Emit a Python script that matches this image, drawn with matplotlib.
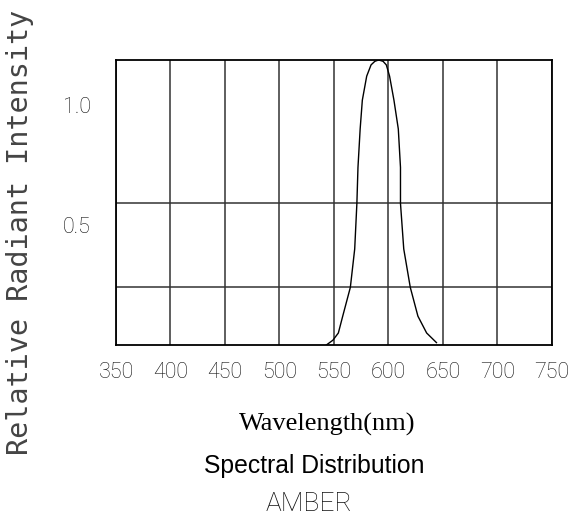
import matplotlib
matplotlib.use('Agg')
import matplotlib.pyplot as plt

# donnees ===============================================================
longueur_onde = [543, 549, 554, 558, 565, 569, 571, 572, 574, 576, 580, 584, 587.5,
                 591, 595, 598, 601, 605, 609, 611, 611, 614, 620, 627, 635, 644]
intensite = [0.0, 0.02, 0.05, 0.12, 0.24, 0.40, 0.59, 0.74, 0.90, 1.02, 1.12, 1.167, 1.182,
             1.1875, 1.182, 1.167, 1.12, 1.02, 0.90, 0.74, 0.59, 0.40, 0.24, 0.12, 0.05, 0.01]

x_ticks = [350, 400, 450, 500, 550, 600, 650, 700, 750]
y_ticks = [0.5, 1.0]
y_tick_labels = ['0.5', '1.0']
y_grille = [0.24, 0.59]

fig = plt.figure(figsize=(5.8, 5.17), dpi=100)
ax = fig.add_axes([0.2, 0.3327, 0.7517, 0.5513])

ax.plot(longueur_onde, intensite, color='black', linewidth=1.0)

for x in x_ticks:
    ax.axvline(x, color='#333333', linewidth=1.1, zorder=0)
for y in y_grille:
    ax.axhline(y, color='#333333', linewidth=1.1, zorder=0)

ax.set_xlim(350, 750)
ax.set_ylim(0, 1.1875)
ax.set_xticks(x_ticks)
ax.set_xticklabels([str(v) for v in x_ticks], fontsize=15.5, family='Roboto', weight='light', color='#111111')
ax.set_yticks(y_ticks)
ax.set_yticklabels(y_tick_labels, fontsize=15.5, family='Roboto', weight='light', color='#111111')
ax.tick_params(length=0, pad=12)
ax.tick_params(axis='y', pad=18)
for s in ax.spines.values():
    s.set_linewidth(1.3)
    s.set_color('black')

fig.text(0.034, 0.55, 'Relative Radiant Intensity', rotation=90, ha='center', va='center',
         fontsize=20.5, family='DejaVu Sans Mono', color='#444444')
fig.text(0.565, 1 - 424/517, 'Wavelength(nm)', ha='center', va='center',
         fontsize=19, family='Liberation Serif', color='black')
fig.text(0.542, 1 - 466/517, 'Spectral Distribution', ha='center', va='center',
         fontsize=17.8, family='Liberation Sans', color='black')
fig.text(0.532, 1 - 504/517, 'AMBER', ha='center', va='center',
         fontsize=19, family='Roboto', weight='light', color='#111111')

plt.savefig('out.png', dpi=100)
